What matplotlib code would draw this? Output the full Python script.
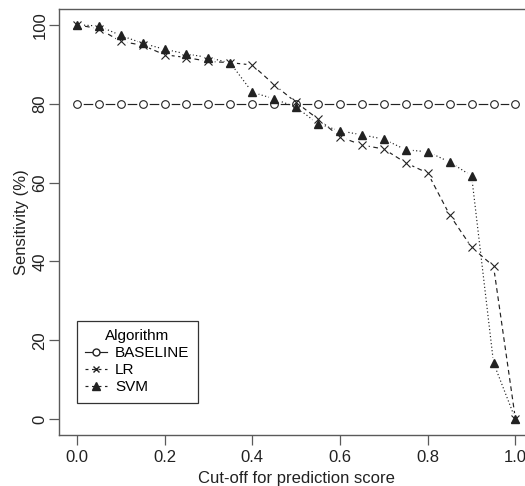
import matplotlib
matplotlib.use("Agg")
import matplotlib.pyplot as plt
from matplotlib.lines import Line2D

plt.rcParams['font.family'] = ['Liberation Sans', 'DejaVu Sans']

cutoff = [0.0, 0.05, 0.1, 0.15, 0.2, 0.25, 0.3, 0.35, 0.4, 0.45, 0.5,
          0.55, 0.6, 0.65, 0.7, 0.75, 0.8, 0.85, 0.9, 0.95, 1.0]
baseline = [80] * 21
lr = [100, 99.0, 95.8, 94.8, 92.4, 91.7, 90.7, 90.4, 89.8, 84.8, 80.3,
      76.1, 71.6, 69.5, 68.5, 65.0, 62.4, 51.8, 43.6, 38.8, 0]
svm = [100, 99.7, 97.3, 95.3, 93.8, 92.6, 91.7, 90.3, 82.9, 81.2, 79.1,
       74.9, 73.1, 72.1, 71.0, 68.3, 67.8, 65.2, 61.7, 14.3, 0]
series_names = ['BASELINE', 'LR', 'SVM']
xticks = [0.0, 0.2, 0.4, 0.6, 0.8, 1.0]
yticks = [0, 20, 40, 60, 80, 100]

W, H = 525, 486
fig = plt.figure(figsize=(W / 100, H / 100), dpi=100)
ax = fig.add_axes([59.3 / W, 1 - 435 / H, (533 - 59.3) / W, (435 - 9) / H])

c = '#222222'
gray = '#5a5a5a'
tc = '#222222'
lw = 0.85
fs = 12

# lines
ax.plot(cutoff, baseline, color=c, lw=lw, ls='-', zorder=1)
ax.plot(cutoff, lr, color=c, lw=lw, dashes=(4, 3), zorder=1)
ax.plot(cutoff, svm, color=c, lw=lw, dashes=(1, 2), zorder=1)
# gaps around points (R type="b")
for ys in (baseline, lr, svm):
    ax.plot(cutoff, ys, ls='none', marker='o', ms=9, mfc='white', mec='none', zorder=2)
# markers
ax.plot(cutoff, baseline, ls='none', marker='o', ms=5.5, mfc='white', mec=c, mew=0.8, zorder=3)
ax.plot(cutoff, lr, ls='none', marker='x', ms=5.5, mec=c, mew=0.8, zorder=3)
ax.plot(cutoff, svm, ls='none', marker='^', ms=6, mfc=c, mec=c, zorder=3)

ax.set_xlim(-0.04, 1.04)
ax.set_ylim(-4, 104)
ax.set_xticks(xticks)
ax.set_xticklabels([f"{t:.1f}" for t in xticks])
ax.set_yticks(yticks)
ax.set_yticklabels([str(t) for t in yticks], rotation=90, va='center')

for s in ax.spines.values():
    s.set_color(gray)
    s.set_linewidth(1.0)
ax.tick_params(direction='out', length=7, width=0.9, color=gray,
               labelsize=fs, labelcolor=tc)
ax.tick_params(axis='x', pad=4)
ax.tick_params(axis='y', pad=1.5)

ax.set_xlabel('Cut-off for prediction score', fontsize=fs, color=tc, labelpad=4)
ax.set_ylabel('Sensitivity (%)', fontsize=fs, color=tc)
ax.yaxis.set_label_coords(-0.064, 0.5)

handles = [
    Line2D([], [], color=c, lw=lw, ls='-', marker='o', ms=5, mfc='white', mec=c),
    Line2D([], [], color=c, lw=lw, dashes=(2.5, 3), marker='x', ms=5, mec=c),
    Line2D([], [], color=c, lw=lw, dashes=(2.5, 3), marker='^', ms=5.5, mfc=c, mec=c),
]
leg = fig.legend(handles, series_names, title='Algorithm', loc='upper left',
                 bbox_to_anchor=(76.7 / W, 1 - 320.7 / H), borderaxespad=0,
                 fontsize=11, title_fontsize=11, frameon=True, fancybox=False,
                 edgecolor='#333333', framealpha=1, handlelength=1.45,
                 handletextpad=0.5, labelspacing=0.2, borderpad=0.55)
leg.get_frame().set_linewidth(0.9)

fig.savefig('out.png', dpi=100)
